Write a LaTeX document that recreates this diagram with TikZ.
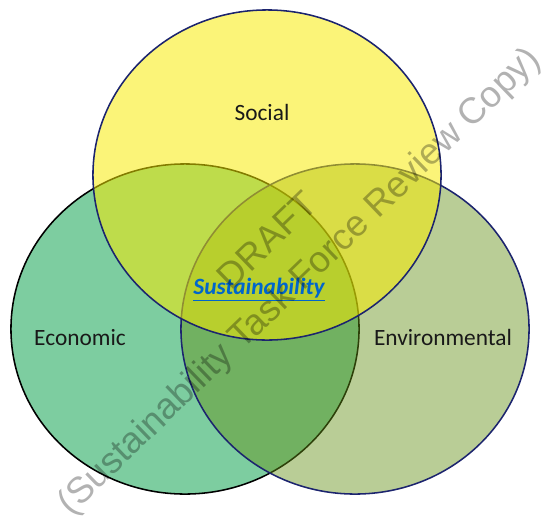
\documentclass[tikz,border=0pt]{standalone}
\usepackage{fontspec}
\setmainfont{Carlito}
\newfontfamily\markfont{Liberation Sans}
\definecolor{econfill}{RGB}{125,205,160}
\definecolor{envfill}{RGB}{100,144,22}
\definecolor{socfill}{RGB}{248,235,0}
\definecolor{rimblue}{RGB}{28,36,110}
\definecolor{linkblue}{RGB}{0,102,204}

\begin{document}
\begin{tikzpicture}[x=0.025cm, y=-0.025cm,
  area/.style={font=\fontsize{16.6}{20}\selectfont, text=black!90},
  stamp/.style={font=\markfont\fontsize{26}{30}\selectfont, text=black, text opacity=0.3, rotate=44}]
\useasboundingbox (0,0) rectangle (543,527);
\coordinate (econ) at (185,329);
\coordinate (env) at (355,329);
\coordinate (soc) at (267,175);
\draw [black, line width=1.1pt, fill=econfill] (econ) ellipse [x radius=4.35cm, y radius=4.125cm];
\draw [rimblue, line width=1.1pt, fill=envfill, fill opacity=0.45] (env) ellipse [x radius=4.35cm, y radius=4.125cm];
\draw [rimblue, line width=1.1pt, fill=socfill, fill opacity=0.53] (soc) ellipse [x radius=4.35cm, y radius=4.125cm];
\node[area] (v0) at (262,112) {Social};
\node[area] (v1) at (80,338) {Economic};
\node[area] (v2) at (443,337) {Environmental};
\node[area, text=linkblue, font=\fontsize{16.6}{20}\selectfont\bfseries\itshape] (v3) at (259,290) {\underline{Sustainability}};
% watermark
\node[stamp] (v4) at (267,240) {DRAFT};
\node[stamp] (v5) at (300,282) {(Sustainability Task Force Review Copy)};
\end{tikzpicture}
\end{document}
